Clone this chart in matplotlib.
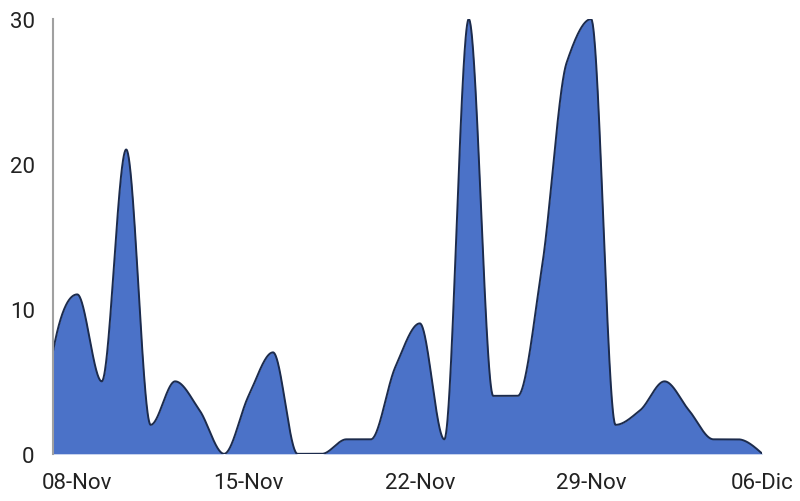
import matplotlib
matplotlib.use('Agg')
import matplotlib.pyplot as plt
import numpy as np

# daily values, 07-Nov .. 06-Dic
dates = ['07-Nov', '08-Nov', '09-Nov', '10-Nov', '11-Nov', '12-Nov', '13-Nov',
         '14-Nov', '15-Nov', '16-Nov', '17-Nov', '18-Nov', '19-Nov', '20-Nov',
         '21-Nov', '22-Nov', '23-Nov', '24-Nov', '25-Nov', '26-Nov', '27-Nov',
         '28-Nov', '29-Nov', '30-Nov', '01-Dic', '02-Dic', '03-Dic', '04-Dic',
         '05-Dic', '06-Dic']
values = [7, 11, 5, 21, 2, 5, 3, 0, 4, 7, 0, 0, 1, 1, 6, 9, 1, 30, 4, 4,
          13, 27, 30, 2, 3, 5, 3, 1, 1, 0]
yticks = [0, 10, 20, 30]


def pchip(x, y, xs):
    # monotone cubic (Fritsch-Carlson) so flat runs stay flat
    x = np.asarray(x, float)
    y = np.asarray(y, float)
    h = np.diff(x)
    d = np.diff(y) / h
    n = len(x)
    m = np.zeros(n)
    for k in range(1, n - 1):
        if d[k - 1] * d[k] > 0:
            w1 = 2 * h[k] + h[k - 1]
            w2 = h[k] + 2 * h[k - 1]
            m[k] = (w1 + w2) / (w1 / d[k - 1] + w2 / d[k])

    def end(h0, h1, d0, d1):
        s = ((2 * h0 + h1) * d0 - h0 * d1) / (h0 + h1)
        if np.sign(s) != np.sign(d0):
            return 0.0
        if np.sign(d0) != np.sign(d1) and abs(s) > abs(3 * d0):
            return 3 * d0
        return s

    m[0] = end(h[0], h[1], d[0], d[1])
    m[-1] = end(h[-1], h[-2], d[-1], d[-2])

    idx = np.clip(np.searchsorted(x, xs) - 1, 0, n - 2)
    t = (xs - x[idx]) / h[idx]
    h00 = 2 * t**3 - 3 * t**2 + 1
    h10 = t**3 - 2 * t**2 + t
    h01 = -2 * t**3 + 3 * t**2
    h11 = t**3 - t**2
    return (h00 * y[idx] + h10 * h[idx] * m[idx]
            + h01 * y[idx + 1] + h11 * h[idx] * m[idx + 1])


plt.rcParams['font.family'] = ['Roboto', 'DejaVu Sans']

x = np.arange(len(dates))
xs = np.linspace(0, len(dates) - 1, 2000)
ys = pchip(x, values, xs)

fig = plt.figure(figsize=(8, 5.02), dpi=100)
ax = fig.add_axes([0.066, 0.094, 0.887, 0.866])

ax.fill_between(xs, 0, ys, color='#4b72c8', linewidth=0)
ax.plot(xs, ys, color='#1c2b4c', linewidth=1.4)

ax.set_xlim(0, len(dates) - 1)
ax.set_ylim(0, 30)

tick_pos = x[1::7]
ax.set_xticks(tick_pos)
ax.set_xticklabels([dates[i] for i in tick_pos])
ax.set_yticks(yticks)
ax.set_yticklabels([str(v) for v in yticks])
ax.tick_params(axis='both', length=0, labelsize=16, labelcolor='#222222')
ax.tick_params(axis='x', pad=13)
ax.tick_params(axis='y', pad=13)

for side in ['top', 'right', 'bottom']:
    ax.spines[side].set_visible(False)
ax.spines['left'].set_color('#a0a0a0')
ax.spines['left'].set_linewidth(1.5)

plt.savefig('out.png', dpi=100)
